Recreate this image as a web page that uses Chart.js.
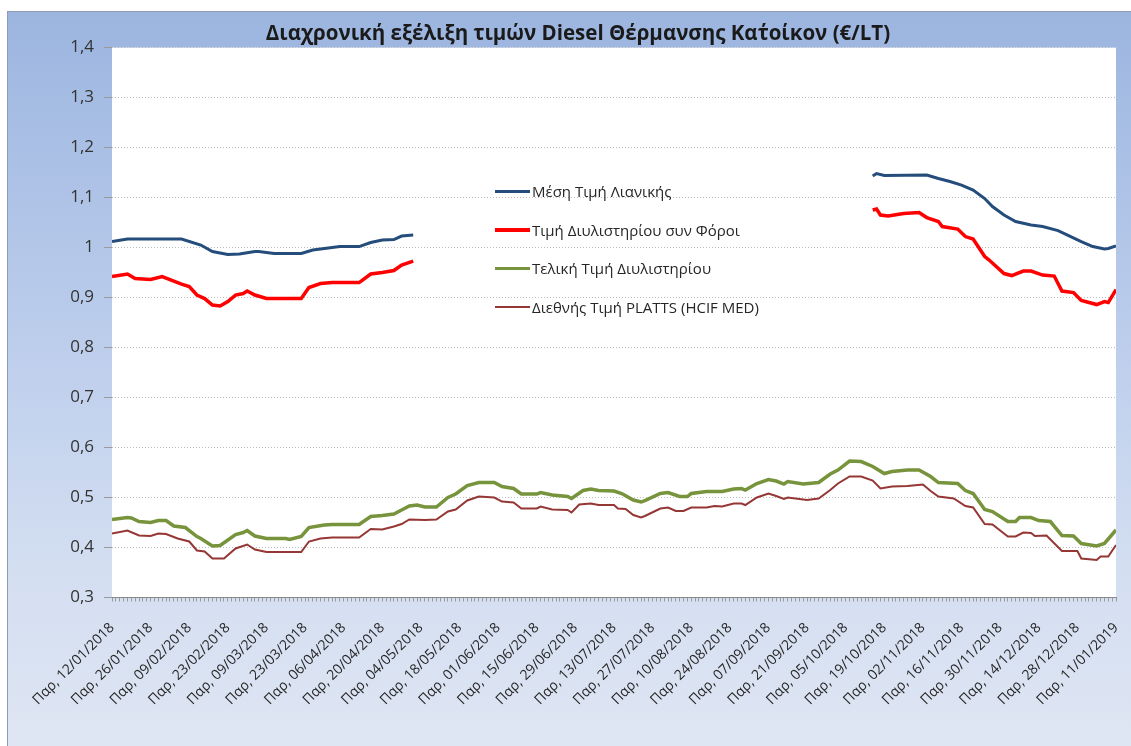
<!DOCTYPE html>
<html>
<head>
<meta charset="utf-8">
<script src="https://cdn.jsdelivr.net/npm/chart.js@4"></script>
<style>
    html, body { margin: 0; padding: 0; background: #fff; }
    body { width: 1131px; height: 746px; position: relative; overflow: hidden; font-family: "Open Sans", sans-serif; }
    #frame {
        position: absolute; left: 7px; top: 11px; width: 1130px; height: 740px;
        border: 1px solid #8e9bb0;
        background: linear-gradient(to bottom, #9cb5df 0%, #b9cbeb 40%, #d3def1 75%, #dfe6f3 100%);
    }
    #chart { position: absolute; left: 0; top: 0; }
    #legend { position: absolute; left: 495px; top: 172px; font-size: 15px; color: #262626; }
    .legend-item { height: 38.5px; display: flex; align-items: center; }
    .legend-item span.line { display: inline-block; width: 35px; margin-right: 2px; }
</style>
</head>
<body>
<div id="frame"></div>
<canvas id="chart" width="1131" height="746"></canvas>
<div id="legend"></div>

<script>
// x = εργάσιμη ημέρα από Παρ 12/01/2018 (0..260)
const retailDays = [0, 4, 18, 23, 26, 30, 33, 37, 38, 42, 49, 52, 56, 59, 64, 67, 70, 73, 75, 78, 130,
    197, 198, 200, 211, 214, 217, 220, 223, 226, 228, 231, 234, 238, 241, 245, 248, 251, 254, 257, 258, 260];
const retailPrice = [1.012, 1.017, 1.017, 1.005, 0.992, 0.986, 0.987, 0.992, 0.992, 0.988, 0.988, 0.995, 0.999, 1.002, 1.002, 1.010, 1.015, 1.016, 1.023, 1.025, null,
    1.143, 1.148, 1.144, 1.145, 1.138, 1.132, 1.125, 1.115, 1.098, 1.082, 1.065, 1.052, 1.045, 1.042, 1.034, 1.023, 1.012, 1.002, 0.997, 0.998, 1.003];

const refineryTaxDays = [0, 4, 6, 10, 13, 15, 18, 20, 22, 24, 26, 28, 30, 32, 34, 35, 37, 40, 49, 51, 54, 57, 64, 67, 70, 73, 75, 78, 130,
    197, 198, 199, 201, 205, 209, 211, 214, 215, 219, 221, 223, 226, 227, 231, 233, 236, 238, 241, 244, 246, 249, 251, 255, 257, 258, 260];
const refineryTaxPrice = [0.942, 0.947, 0.938, 0.936, 0.942, 0.936, 0.927, 0.922, 0.905, 0.898, 0.885, 0.883, 0.892, 0.905, 0.908, 0.913, 0.905, 0.898, 0.898, 0.920, 0.928, 0.930, 0.930, 0.947, 0.950, 0.954, 0.965, 0.973, null,
    1.075, 1.077, 1.065, 1.063, 1.068, 1.070, 1.060, 1.052, 1.042, 1.037, 1.022, 1.017, 0.982, 0.976, 0.948, 0.944, 0.953, 0.953, 0.945, 0.943, 0.913, 0.910, 0.894, 0.886, 0.892, 0.890, 0.916];

const refineryDays = [0, 4, 5, 7, 10, 12, 14, 16, 19, 22, 23, 26, 28, 32, 34, 35, 37, 40, 45, 46, 49, 51, 55, 57, 64, 67, 70, 73, 75, 77, 79, 81, 84, 87, 89, 92, 95, 99,
    101, 104, 106, 110, 111, 114, 118, 119, 122, 124, 126, 130, 132, 135, 137, 138, 142, 144, 147, 149, 150, 154, 158, 161, 163, 164, 167, 170, 172, 174, 175, 179,
    183, 186, 188, 191, 194, 197, 200, 202, 206, 209, 212, 214, 219, 221, 223, 226, 228, 232, 234, 235, 238, 240, 243, 246, 249, 251, 255, 257, 260];
const refineryPrice = [0.456, 0.460, 0.459, 0.452, 0.450, 0.454, 0.454, 0.443, 0.440, 0.422, 0.418, 0.403, 0.404, 0.426, 0.430, 0.434, 0.423, 0.418, 0.418, 0.416, 0.422, 0.440, 0.445, 0.446, 0.446, 0.462, 0.464, 0.467, 0.475, 0.483, 0.485, 0.481, 0.481, 0.500, 0.507, 0.524, 0.530, 0.530,
    0.522, 0.518, 0.507, 0.507, 0.510, 0.505, 0.502, 0.498, 0.514, 0.517, 0.514, 0.513, 0.508, 0.495, 0.491, 0.494, 0.508, 0.510, 0.502, 0.502, 0.508, 0.512, 0.512, 0.517, 0.518, 0.515, 0.528, 0.536, 0.533, 0.527, 0.532, 0.527,
    0.530, 0.547, 0.555, 0.573, 0.572, 0.562, 0.548, 0.552, 0.555, 0.555, 0.542, 0.530, 0.528, 0.514, 0.508, 0.476, 0.472, 0.452, 0.452, 0.460, 0.460, 0.454, 0.452, 0.424, 0.423, 0.408, 0.403, 0.408, 0.435];

const plattsDays = [0, 4, 7, 10, 12, 14, 17, 20, 22, 24, 26, 29, 32, 35, 37, 40, 49, 51, 54, 57, 64, 67, 70, 73, 75, 77, 81, 84, 87, 89, 92, 95, 99,
    101, 104, 106, 110, 111, 114, 118, 119, 121, 124, 126, 130, 131, 133, 135, 137, 138, 142, 144, 146, 148, 150, 154, 156, 158, 161, 163, 164, 167, 170, 172, 174, 175, 180,
    183, 186, 188, 191, 194, 197, 199, 202, 206, 210, 212, 214, 218, 221, 223, 226, 228, 232, 234, 236, 238, 239, 242, 246, 250, 251, 255, 256, 258, 260];
const plattsPrice = [0.428, 0.434, 0.424, 0.423, 0.428, 0.427, 0.418, 0.412, 0.394, 0.392, 0.378, 0.378, 0.398, 0.406, 0.396, 0.391, 0.391, 0.412, 0.418, 0.420, 0.420, 0.437, 0.436, 0.442, 0.447, 0.456, 0.455, 0.456, 0.472, 0.476, 0.494, 0.502, 0.500,
    0.492, 0.490, 0.478, 0.478, 0.482, 0.476, 0.475, 0.470, 0.486, 0.488, 0.485, 0.485, 0.478, 0.477, 0.465, 0.460, 0.463, 0.478, 0.480, 0.473, 0.473, 0.480, 0.480, 0.483, 0.482, 0.488, 0.488, 0.485, 0.500, 0.508, 0.503, 0.497, 0.500, 0.495,
    0.498, 0.515, 0.528, 0.542, 0.542, 0.534, 0.518, 0.522, 0.523, 0.526, 0.513, 0.502, 0.498, 0.483, 0.480, 0.447, 0.446, 0.422, 0.422, 0.430, 0.429, 0.423, 0.424, 0.393, 0.393, 0.378, 0.375, 0.382, 0.382, 0.405];

const seriesNames = ['Μέση Τιμή Λιανικής', 'Τιμή Διυλιστηρίου συν Φόροι', 'Τελική Τιμή Διυλιστηρίου', 'Διεθνής Τιμή PLATTS (HCIF MED)'];
const seriesColors = ['#244d7c', '#ff0000', '#77933c', '#953735'];
const seriesWidths = [3, 3.5, 3.5, 2];

const startDate = new Date(2018, 0, 12);
const tickPrefix = 'Παρ, ';

function points(days, values) {
    return days.map((d, i) => ({ x: d, y: values[i] }));
}

function dateLabel(v) {
    if (v % 10 !== 0) return '';
    const d = new Date(startDate);
    d.setDate(d.getDate() + (v / 5) * 7);
    const dd = String(d.getDate()).padStart(2, '0');
    const mm = String(d.getMonth() + 1).padStart(2, '0');
    return tickPrefix + dd + '/' + mm + '/' + d.getFullYear();
}

const allData = [
    points(retailDays, retailPrice),
    points(refineryTaxDays, refineryTaxPrice),
    points(refineryDays, refineryPrice),
    points(plattsDays, plattsPrice)
];

// λευκό φόντο μόνο στην περιοχή σχεδίασης
const plotBackground = {
    id: 'plotBackground',
    beforeDraw(chart) {
        const { ctx, chartArea } = chart;
        ctx.save();
        ctx.fillStyle = '#ffffff';
        ctx.fillRect(chartArea.left, chartArea.top, chartArea.right - chartArea.left, chartArea.bottom - chartArea.top);
        ctx.restore();
    }
};

new Chart(document.getElementById('chart'), {
    type: 'line',
    data: {
        datasets: allData.map((d, i) => ({
            label: seriesNames[i],
            data: d,
            borderColor: seriesColors[i],
            backgroundColor: seriesColors[i],
            borderWidth: seriesWidths[i],
            pointRadius: 0,
            tension: 0,
            spanGaps: false
        }))
    },
    plugins: [plotBackground],
    options: {
        responsive: false,
        animation: false,
        layout: { padding: { left: 40, right: 15, top: 0, bottom: 0 } },
        plugins: {
            legend: { display: false },
            tooltip: { enabled: false },
            title: {
                display: true,
                text: 'Διαχρονική εξέλιξη τιμών Diesel Θέρμανσης Κατ΄οίκον (€/LT)',
                color: '#1a1a1a',
                font: { family: 'Open Sans', size: 20.5, weight: 'bold', lineHeight: 1.15 },
                padding: { top: 22, bottom: 2 }
            }
        },
        scales: {
            x: {
                type: 'linear',
                min: 0,
                max: 260,
                afterFit(scale) {
                    scale.height = 148.5;
                    scale.paddingRight = 15;
                },
                ticks: {
                    stepSize: 1,
                    maxTicksLimit: 300,
                    autoSkip: false,
                    minRotation: 45,
                    maxRotation: 45,
                    padding: 18,
                    color: '#262626',
                    font: { family: 'Open Sans', size: 14 },
                    callback: dateLabel
                },
                grid: { drawOnChartArea: false, tickLength: 4, color: '#9a9a9a' },
                border: { display: true, color: '#8a8a8a', width: 1 }
            },
            y: {
                min: 0.3,
                max: 1.4,
                afterFit(scale) { scale.width = 72; },
                ticks: {
                    stepSize: 0.1,
                    padding: 10,
                    color: '#333333',
                    font: { family: 'Open Sans', size: 17 },
                    callback: v => String(Number(v.toFixed(1))).replace('.', ',')
                },
                grid: { color: '#bdbdbd', tickLength: 8, tickColor: '#9a9a9a' },
                border: { display: false, dash: [1, 2] }
            }
        }
    }
});

// υπόμνημα μέσα στην περιοχή σχεδίασης
const legendEl = document.getElementById('legend');
seriesNames.forEach((name, i) => {
    const row = document.createElement('div');
    row.className = 'legend-item';
    const line = document.createElement('span');
    line.className = 'line';
    line.style.height = seriesWidths[i] + 'px';
    line.style.background = seriesColors[i];
    const text = document.createElement('span');
    text.textContent = name;
    row.appendChild(line);
    row.appendChild(text);
    legendEl.appendChild(row);
});
</script>
</body>
</html>
